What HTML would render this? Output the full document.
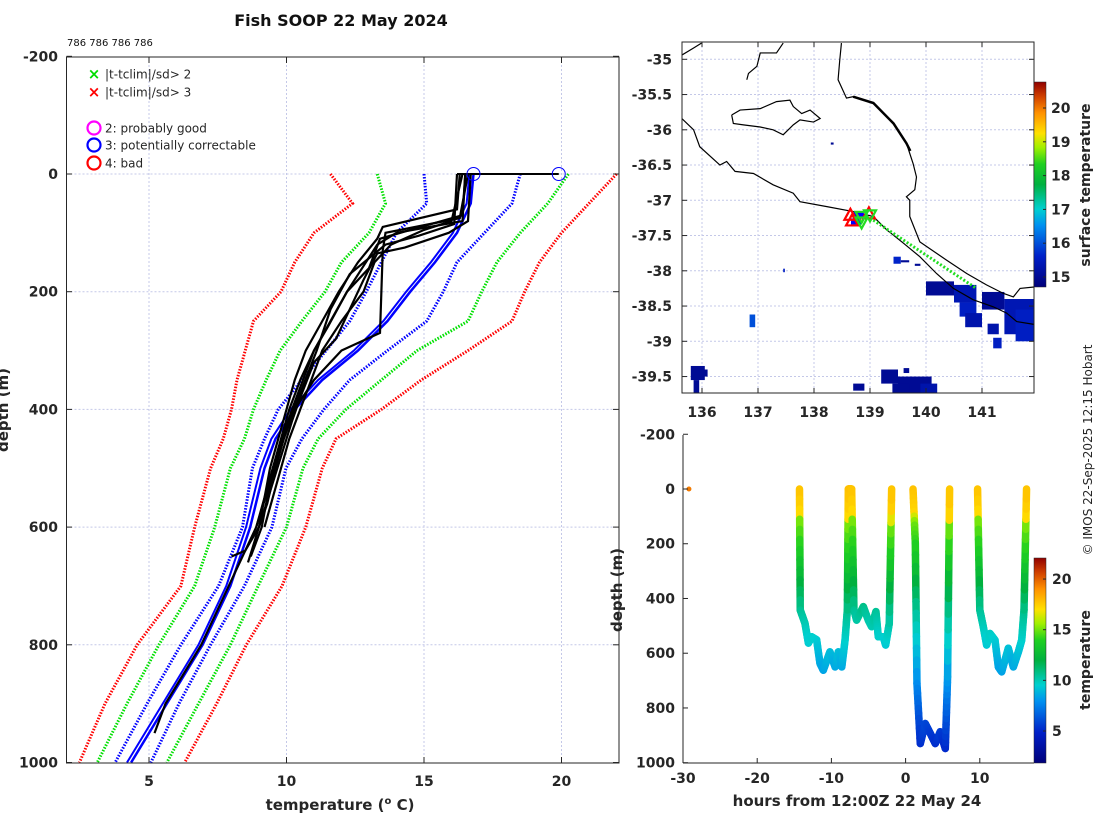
<!DOCTYPE html>
<html><head><meta charset="utf-8"><title>Fish SOOP 22 May 2024</title>
<style>
html,body{margin:0;padding:0;background:#fff;}
svg{display:block;font-family:"DejaVu Sans","Liberation Sans",sans-serif;}
.tk{font-size:14px;font-weight:bold;fill:#262626;}
.lg{font-size:12px;fill:#262626;}
</style></head>
<body>
<svg id="fig" width="1100" height="820" viewBox="0 0 1100 820" xmlns="http://www.w3.org/2000/svg">
<defs>
<clipPath id="clipL"><rect x="66.5" y="57" width="552.5" height="706"/></clipPath>
<clipPath id="clipM"><rect x="682" y="42" width="352" height="351"/></clipPath>
<clipPath id="clipB"><rect x="683" y="435" width="351" height="330"/></clipPath>
<linearGradient id="cmap" x1="0" y1="1" x2="0" y2="0">
<stop offset="0" stop-color="#00007a"/><stop offset="0.15" stop-color="#0020c8"/><stop offset="0.3" stop-color="#0090f0"/><stop offset="0.38" stop-color="#00d0d0"/><stop offset="0.5" stop-color="#00b040"/><stop offset="0.6" stop-color="#20d020"/><stop offset="0.68" stop-color="#a0f000"/><stop offset="0.75" stop-color="#ffe000"/><stop offset="0.85" stop-color="#ff9000"/><stop offset="0.93" stop-color="#d04000"/><stop offset="1" stop-color="#900000"/>
</linearGradient>
</defs>
<text x="341" y="26" text-anchor="middle" font-size="16" font-weight="bold" fill="#111">Fish SOOP 22 May 2024</text>
<text x="67" y="46" font-size="10" fill="#111">786 786 786 786</text>
<g id="gL"></g>
<g id="gM"></g>
<g id="gB"></g>
<text transform="translate(1092,450) rotate(-90)" text-anchor="middle" font-size="12" fill="#262626">© IMOS 22-Sep-2025 12:15 Hobart</text>
</svg>
<script>
// ---------- PROFILE PANEL DATA ----------
const climDepths = [0,50,100,150,200,250,300,350,400,450,500,600,700,800,900,1000];
const climRedLow   = [11.6,12.4,11.0,10.3,9.8,8.8,8.5,8.2,8.0,7.7,7.24,6.66,6.16,4.57,3.4,2.47];
const climGreenLow = [13.3,13.6,13.0,12.0,11.4,10.56,9.77,9.26,8.8,8.47,7.96,7.39,6.66,5.36,4.2,3.12];
const climBlueLow  = [15.0,15.1,14.0,13.45,12.9,12.3,11.44,10.56,9.7,9.2,8.76,8.4,7.53,6.16,4.93,3.77];
const climMean     = [16.8,16.7,16.2,15.4,14.5,13.67,12.6,11.3,10.3,9.6,9.2,8.68,7.96,6.95,5.65,4.35];
const climBlueHigh = [18.5,18.2,17.2,16.2,15.7,15.1,13.67,12.3,11.36,10.56,9.98,9.47,8.47,7.24,6.09,5.07];
const climGreenHigh= [20.25,19.5,18.5,17.65,17.1,16.6,14.75,13.45,12.16,11.15,10.6,10.0,8.97,7.96,6.8,5.65];
const climRedHigh  = [22.0,21.0,20.0,19.2,18.66,18.2,16.6,14.9,13.45,11.8,11.3,10.7,9.84,8.54,7.46,6.3];

const profDepthA = [0,60,90,110,150,200,250,300,350,400,450,500,550,600,640,650];
const profTempA  = [16.3,16.2,13.5,13.3,12.6,11.9,11.3,10.7,10.3,10.0,9.7,9.4,9.2,9.0,8.5,8.0];
const profDepthB = [0,70,95,110,160,200,260,300,350,400,450,500,550,600,650];
const profTempB  = [16.5,16.4,14.5,13.4,13.0,12.2,11.5,11.0,10.5,10.1,9.8,9.5,9.3,9.1,8.7];
const profDepthC = [0,75,100,130,200,270,300,350,400,450,500,560,600,660];
const profTempC  = [16.6,16.3,13.6,13.5,13.45,13.4,12.0,11.0,10.3,9.9,9.6,9.3,9.0,8.6];
const profDepthD = [0,80,95,120,150,200,250,300,350,400,450,500,550,600];
const profTempD  = [16.4,16.0,15.0,13.8,13.2,12.8,12.0,11.3,10.9,10.5,10.1,9.8,9.5,9.2];
const profDepthE = [0,80,100,125,135,180,220,280,320,380,420,480,540,600];
const profTempE  = [16.7,16.6,15.9,14.3,13.3,12.8,12.4,11.8,11.0,10.5,10.2,9.8,9.4,9.0];
const profDepthF = [0,80,100,120,200,300,400,500,600,700,800,900,950];
const profTempF  = [16.5,16.4,14.0,13.3,12.2,11.0,10.2,9.5,8.9,7.9,6.9,5.6,5.2];
const profDepthG = [0,85,105,120,170,230,300,360,420,480,540,600];
const profTempG  = [16.2,16.1,14.8,13.6,12.3,11.6,11.1,10.6,10.1,9.7,9.3,8.9];
const surfaceLineT = [16.2,19.9];
const flagCircleT = [16.8,19.9];
const tempTicks = [5,10,15,20];
const depthTicksL = [-200,0,200,400,600,800,1000];

// ---------- MAP DATA ----------
const coastMainLon = [135.64,135.85,135.96,136.32,136.44,136.59,136.92,137.27,137.63,137.75,138.23,138.7,139.06,139.3,139.6,139.89,140.19,140.49,140.84,141.2,141.44,141.62,141.93];
const coastMainLat = [-35.84,-36.0,-36.24,-36.5,-36.45,-36.59,-36.62,-36.78,-36.9,-37.02,-37.09,-37.16,-37.23,-37.42,-37.61,-37.8,-38.04,-38.25,-38.41,-38.51,-38.6,-38.72,-38.76];
const coastBayLon = [141.93,141.68,141.56,141.38,141.08,140.73,140.37,139.89,139.71,139.71,139.65,139.8,139.83,139.77,139.65,139.42,139.06,138.7,138.58,138.43,138.46,138.49];
const coastBayLat = [-38.23,-38.25,-38.37,-38.32,-38.2,-38.04,-37.85,-37.59,-37.23,-37.0,-36.95,-36.85,-36.67,-36.48,-36.19,-35.91,-35.62,-35.53,-35.55,-35.29,-35.01,-34.77];
const coorongLon = [138.7,139.06,139.42,139.65,139.72];
const coorongLat = [-35.53,-35.62,-35.91,-36.19,-36.3];
const islandLon = [136.53,136.68,137.04,137.33,137.57,137.63,137.78,137.93,138.11,137.99,137.75,137.63,137.45,137.27,137.04,136.74,136.56,136.53];
const islandLat = [-35.79,-35.72,-35.7,-35.6,-35.58,-35.67,-35.77,-35.72,-35.84,-35.89,-35.86,-35.93,-36.07,-36.0,-35.96,-35.93,-35.91,-35.79];
const eyreLon = [135.64,135.85,135.99];
const eyreLat = [-34.94,-34.84,-34.77];
const yorkeLon = [136.8,136.83,136.98,137.04,137.33,137.45];
const yorkeLat = [-35.29,-35.2,-35.1,-34.91,-34.91,-34.77];
const sstLon0 = [139.42,139.55,139.8,140.0,140.5,140.6,140.7,141.0,141.4,141.6,141.1,141.2,136.85,137.45,138.3,139.2,139.5,139.9,139.4,138.7,139.6,135.8,135.85,136.0];
const sstLat0 = [-37.8,-37.85,-37.9,-38.15,-38.2,-38.45,-38.6,-38.3,-38.4,-38.55,-38.75,-38.95,-38.62,-37.97,-36.18,-39.4,-39.5,-39.6,-39.6,-39.6,-39.38,-39.35,-39.55,-39.4];
const sstLon1 = [139.55,139.7,139.9,140.5,140.9,140.9,141.0,141.4,141.93,141.93,141.3,141.35,136.95,137.48,138.35,139.5,140.1,140.2,139.7,138.9,139.7,136.05,135.95,136.1];
const sstLat1 = [-37.9,-37.88,-37.93,-38.35,-38.45,-38.65,-38.8,-38.55,-38.9,-39.0,-38.9,-39.1,-38.8,-38.02,-36.21,-39.6,-39.73,-39.73,-39.73,-39.7,-39.45,-39.55,-39.73,-39.5];
const sstTemp = [15.6,14.9,14.9,14.9,15.3,15.5,15.2,14.9,15.3,15.5,15.2,15.5,16.0,15.5,14.9,14.9,14.9,15.2,14.9,14.9,14.9,14.9,14.9,14.9];
const trackLon = [139.0,140.9];
const trackLat = [-37.25,-38.25];
const redTriLon = [138.68,138.65,138.98];
const redTriLat = [-37.3,-37.22,-37.2];
const greenTriLon = [138.85,139.0,138.85];
const greenTriLat = [-37.3,-37.2,-37.22];
const blueMarkLon = [138.8,138.75];
const blueMarkLat = [-37.2,-37.3];
const lonTicks = [136,137,138,139,140,141];
const latTicks = [-35,-35.5,-36,-36.5,-37,-37.5,-38,-38.5,-39,-39.5];
const sstCbarTicks = [15,16,17,18,19,20];

// ---------- TIME-DEPTH DATA ----------
const trackHours = [-14.3,-14.2,-13.56,-13.1,-12.66,-11.99,-11.54,-11.09,-10.2,-9.5,-9.07,-8.6,-8.16,-7.85,-7.72,-7.27,-6.96,-6.6,-5.7,-5.03,-4.58,-4.0,-3.68,-3.0,-2.69,-2.2,-1.88,
  null,1.0,1.31,1.53,1.98,2.65,3.33,4.0,4.67,5.35,5.66,5.93,
  null,9.7,10.0,10.47,10.92,11.37,12.05,12.5,12.95,13.84,14.52,15.2,15.65,15.96,16.3];
const trackDepths = [0,442,491,563,540,551,637,662,595,650,595,650,552,442,0,0,442,479,430,479,503,448,540,540,570,491,0,
  null,0,198,710,930,857,893,930,887,948,686,0,
  null,0,442,503,570,528,552,650,668,582,650,595,552,442,0];
const colorDepths = [0,90,130,250,350,450,600,700,850,950];
const colorTemps  = [17.8,17.3,15.0,13.5,12.0,10.5,9.0,8.0,6.0,5.0];
const surfaceDotHour = [-29.2];
const surfaceDotTemp = [19.5];
const hourTicks = [-30,-20,-10,0,10];
const depthTicksB = [-200,0,200,400,600,800,1000];
const tCbarTicks = [5,10,15,20];

// ---------- AXIS FUNCTIONS ----------
const xL = t => 66.5 + (t - 2) * 27.5;
const yL = d => 174 + d * 0.5885;
const xM = lon => 702 + (lon - 136) * 56;
const yM = lat => 59.3 + (-35 - lat) * 70.5;
const xB = h => 683 + (h + 30) * 7.42;
const yB = d => 489 + d * 0.2737;
const yCM = t => 277 - (t - 15) * 33.8;
const yCB = t => 731 - (t - 5) * 10.13;

const NS = 'http://www.w3.org/2000/svg';
function mk(tag, attrs, parent) {
  const e = document.createElementNS(NS, tag);
  for (const k in attrs) e.setAttribute(k, attrs[k]);
  parent.appendChild(e);
  return e;
}
const cmapStops = [[0,[0,0,122]],[0.15,[0,32,200]],[0.3,[0,144,240]],[0.38,[0,208,208]],[0.5,[0,176,64]],[0.6,[32,208,32]],[0.68,[160,240,0]],[0.75,[255,224,0]],[0.85,[255,144,0]],[0.93,[208,64,0]],[1,[144,0,0]]];
function cmap(f) {
  f = Math.max(0, Math.min(1, f));
  for (let i = 1; i < cmapStops.length; i++) {
    if (f <= cmapStops[i][0]) {
      const a = cmapStops[i-1], b = cmapStops[i];
      const u = (f - a[0]) / (b[0] - a[0]);
      const c = a[1].map((v, j) => Math.round(v + (b[1][j] - v) * u));
      return 'rgb(' + c.join(',') + ')';
    }
  }
  return 'rgb(144,0,0)';
}
function interp(xs, ys, x) {
  if (x <= xs[0]) return ys[0];
  for (let i = 1; i < xs.length; i++) if (x <= xs[i]) return ys[i-1] + (ys[i] - ys[i-1]) * (x - xs[i-1]) / (xs[i] - xs[i-1]);
  return ys[ys.length - 1];
}

// ---------- PROFILE PANEL ----------
const gL = document.getElementById('gL');
for (const d of depthTicksL) {
  if (d === -200 || d === 1000) continue;
  const g = mk('line', {x1: 66.5, x2: 619, y1: yL(d), y2: yL(d), stroke: '#c4c8e8', 'stroke-width': 1, 'stroke-dasharray': '2,2'}, gL);
  
  
}
for (const t of tempTicks) {
  const g = mk('line', {x1: xL(t), x2: xL(t), y1: 57, y2: 763, stroke: '#c4c8e8', 'stroke-width': 1, 'stroke-dasharray': '2,2'}, gL);
  
  
}
const clipL = mk('g', {'clip-path': 'url(#clipL)'}, gL);
function climLine(vals, color, name) {
  const pts = vals.map((t, i) => xL(t) + ',' + yL(climDepths[i])).join(' ');
  const p = mk('polyline', {points: pts, fill: 'none', stroke: color, 'stroke-width': 3, 'stroke-dasharray': '1.5,1.5'}, clipL);
  
  
}
climLine(climRedLow, '#ff0000', 'clim-minus-3sd');
climLine(climGreenLow, '#00e000', 'clim-minus-2sd');
climLine(climBlueLow, '#0000ff', 'clim-minus-1sd');
climLine(climBlueHigh, '#0000ff', 'clim-plus-1sd');
climLine(climGreenHigh, '#00e000', 'clim-plus-2sd');
climLine(climRedHigh, '#ff0000', 'clim-plus-3sd');
const meanPts = climMean.map((t, i) => xL(t) + ',' + yL(climDepths[i])).join(' ');
const meanLine = mk('polyline', {points: meanPts, fill: 'none', stroke: '#0000ff', 'stroke-width': 2.5}, clipL);


const meanPts2 = climMean.map((t, i) => xL(t - 0.15) + ',' + yL(climDepths[i])).join(' ');
const meanLine2 = mk('polyline', {points: meanPts2, fill: 'none', stroke: '#0000ff', 'stroke-width': 2}, clipL);


const profs = [[profDepthA, profTempA], [profDepthB, profTempB], [profDepthC, profTempC], [profDepthD, profTempD], [profDepthE, profTempE], [profDepthF, profTempF], [profDepthG, profTempG]];
profs.forEach((pr, k) => {
  const pts = pr[0].map((d, i) => xL(pr[1][i]) + ',' + yL(d)).join(' ');
  const p = mk('polyline', {points: pts, fill: 'none', stroke: '#000', 'stroke-width': 2.2}, clipL);
  
  
});
const sl = mk('line', {x1: xL(surfaceLineT[0]), x2: xL(surfaceLineT[1]), y1: yL(0), y2: yL(0), stroke: '#000', 'stroke-width': 2}, clipL);


flagCircleT.forEach((t, i) => {
  const c = mk('circle', {cx: xL(t), cy: yL(0), r: 6.5, fill: 'none', stroke: '#0000ff', 'stroke-width': 1}, clipL);
  
  
});
const boxL = mk('rect', {x: 66.5, y: 57, width: 552.5, height: 706, fill: 'none', stroke: '#262626', 'stroke-width': 1}, gL);


for (const d of depthTicksL) {
  const t = mk('text', {x: 58, y: yL(d) + 5, 'text-anchor': 'end', class: 'tk'}, gL);
  t.textContent = d;
  
  
  mk('line', {x1: 66.5, x2: 72, y1: yL(d), y2: yL(d), stroke: '#262626'}, gL);
  mk('line', {x1: 613, x2: 619, y1: yL(d), y2: yL(d), stroke: '#262626'}, gL);
}
for (const tv of tempTicks) {
  const t = mk('text', {x: xL(tv), y: 786, 'text-anchor': 'middle', class: 'tk'}, gL);
  t.textContent = tv;
  
  
  mk('line', {x1: xL(tv), x2: xL(tv), y1: 763, y2: 757, stroke: '#262626'}, gL);
  mk('line', {x1: xL(tv), x2: xL(tv), y1: 57, y2: 63, stroke: '#262626'}, gL);
}
const xt = mk('text', {x: 340, y: 810, 'text-anchor': 'middle', 'font-size': 15, 'font-weight': 'bold', fill: '#262626'}, gL);


xt.innerHTML = 'temperature (<tspan dy="-6" font-size="10">o</tspan><tspan dy="6"> C)</tspan>';
const yt = mk('text', {transform: 'translate(8,410) rotate(-90)', 'text-anchor': 'middle', 'font-size': 15, 'font-weight': 'bold', fill: '#262626'}, gL);
yt.textContent = 'depth (m)';


// legend
const legItems = [['x', '#00dd00', '|t-tclim|/sd> 2', 74], ['x', '#ff0000', '|t-tclim|/sd> 3', 92], ['o', '#ff00ff', '2: probably good', 128], ['o', '#0000ff', '3: potentially correctable', 145], ['o', '#ff0000', '4: bad', 163]];
legItems.forEach((it, i) => {
  if (it[0] === 'x') {
    const t = mk('text', {x: 94, y: it[3] + 5, 'text-anchor': 'middle', 'font-size': 15, 'font-weight': 'bold', fill: it[1]}, gL);
    t.textContent = '×';
    
    
  } else {
    const c = mk('circle', {cx: 94, cy: it[3], r: 6.5, fill: 'none', stroke: it[1], 'stroke-width': 2.2}, gL);
    
    
  }
  const t = mk('text', {x: 105, y: it[3] + 4.5, class: 'lg'}, gL);
  t.textContent = it[2];
  
  
});

// ---------- MAP PANEL ----------
const gM = document.getElementById('gM');
for (const lt of latTicks) {
  mk('line', {x1: 682, x2: 1034, y1: yM(lt), y2: yM(lt), stroke: '#c4c8e8', 'stroke-dasharray': '2,2'}, gM);
}
for (const ln of lonTicks) {
  mk('line', {x1: xM(ln), x2: xM(ln), y1: 42, y2: 393, stroke: '#c4c8e8', 'stroke-dasharray': '2,2'}, gM);
}
const clipM = mk('g', {'clip-path': 'url(#clipM)'}, gM);
sstTemp.forEach((tv, i) => {
  const f = (tv - 14.7) / (20.77 - 14.7);
  const r = mk('rect', {x: xM(sstLon0[i]), y: yM(sstLat0[i]), width: xM(sstLon1[i]) - xM(sstLon0[i]), height: yM(sstLat1[i]) - yM(sstLat0[i]), fill: cmap(f * 0.9 + 0.02)}, clipM);
  
  
});
function coast(lons, lats, name, w) {
  const p = mk('polyline', {points: lons.map((l, i) => xM(l) + ',' + yM(lats[i])).join(' '), fill: 'none', stroke: '#000', 'stroke-width': w}, clipM);
  
  
}
coast(coastMainLon, coastMainLat, 'coastline-shelf', 1.2);
coast(coastBayLon, coastBayLat, 'coastline-mainland', 1.2);
coast(coorongLon, coorongLat, 'coorong', 2.5);
coast(islandLon, islandLat, 'kangaroo-island', 1.2);
coast(eyreLon, eyreLat, 'eyre-peninsula', 1.2);
coast(yorkeLon, yorkeLat, 'yorke-peninsula', 1.2);
const trk = mk('line', {x1: xM(trackLon[0]), y1: yM(trackLat[0]), x2: xM(trackLon[1]), y2: yM(trackLat[1]), stroke: '#22dd22', 'stroke-width': 3, 'stroke-dasharray': '2,2'}, clipM);


blueMarkLon.forEach((l, i) => {
  const r = mk('rect', {x: xM(l) - 5, y: yM(blueMarkLat[i]) - 3, width: 10, height: 6, fill: '#0000ff'}, clipM);
  
  
});
redTriLon.forEach((l, i) => {
  const x = xM(l), y = yM(redTriLat[i]);
  const p = mk('polygon', {points: `${x},${y-7} ${x-6},${y+4} ${x+6},${y+4}`, fill: 'none', stroke: '#ff0000', 'stroke-width': 2.2}, clipM);
  
  
});
greenTriLon.forEach((l, i) => {
  const x = xM(l), y = yM(greenTriLat[i]);
  const p = mk('polygon', {points: `${x},${y+7} ${x-6},${y-4} ${x+6},${y-4}`, fill: 'none', stroke: '#22dd22', 'stroke-width': 2.2}, clipM);
  
  
});
const boxM = mk('rect', {x: 682, y: 42, width: 352, height: 351, fill: 'none', stroke: '#262626'}, gM);


for (const lt of latTicks) {
  const t = mk('text', {x: 672, y: yM(lt) + 5, 'text-anchor': 'end', class: 'tk'}, gM);
  t.textContent = lt;
  
  
  mk('line', {x1: 682, x2: 687, y1: yM(lt), y2: yM(lt), stroke: '#262626'}, gM);
  mk('line', {x1: 1029, x2: 1034, y1: yM(lt), y2: yM(lt), stroke: '#262626'}, gM);
}
for (const ln of lonTicks) {
  const t = mk('text', {x: xM(ln), y: 417, 'text-anchor': 'middle', class: 'tk'}, gM);
  t.textContent = ln;
  
  
  mk('line', {x1: xM(ln), x2: xM(ln), y1: 393, y2: 388, stroke: '#262626'}, gM);
  mk('line', {x1: xM(ln), x2: xM(ln), y1: 42, y2: 47, stroke: '#262626'}, gM);
}
const cbM = mk('rect', {x: 1034, y: 82, width: 12, height: 205, fill: 'url(#cmap)', stroke: '#262626', 'stroke-width': 0.5}, gM);


for (const tv of sstCbarTicks) {
  const t = mk('text', {x: 1051, y: yCM(tv) + 5, class: 'tk'}, gM);
  t.textContent = tv;
  
  
  mk('line', {x1: 1043, x2: 1046, y1: yCM(tv), y2: yCM(tv), stroke: '#262626'}, gM);
}
const cbMt = mk('text', {transform: 'translate(1090,185) rotate(-90)', 'text-anchor': 'middle', 'font-size': 14, 'font-weight': 'bold', fill: '#262626'}, gM);
cbMt.textContent = 'surface temperature';



// ---------- TIME-DEPTH PANEL ----------
const gB = document.getElementById('gB');
const clipB = mk('g', {'clip-path': 'url(#clipB)'}, gB);
const tMin = 1.8, tMax = 22.1;
for (let i = 1; i < trackHours.length; i++) {
  if (trackHours[i] === null || trackHours[i-1] === null) continue;
  const n = 12;
  for (let k = 0; k < n; k++) {
    const u0 = k / n, u1 = (k + 1) / n;
    const h0 = trackHours[i-1] + (trackHours[i] - trackHours[i-1]) * u0;
    const h1 = trackHours[i-1] + (trackHours[i] - trackHours[i-1]) * u1;
    const d0 = trackDepths[i-1] + (trackDepths[i] - trackDepths[i-1]) * u0;
    const d1 = trackDepths[i-1] + (trackDepths[i] - trackDepths[i-1]) * u1;
    const tv = interp(colorDepths, colorTemps, (d0 + d1) / 2);
    const s = mk('line', {x1: xB(h0), y1: yB(d0), x2: xB(h1), y2: yB(d1), stroke: cmap((tv - tMin) / (tMax - tMin)), 'stroke-width': 7.5, 'stroke-linecap': 'round'}, clipB);
    
    
  }
}
surfaceDotHour.forEach((h, i) => {
  const c = mk('circle', {cx: xB(h), cy: yB(0), r: 2.5, fill: cmap((surfaceDotTemp[i] - tMin) / (tMax - tMin))}, clipB);
  
  
});
mk('line', {x1: 683, x2: 683, y1: 435, y2: 763, stroke: '#262626'}, gB);
mk('line', {x1: 683, x2: 1034, y1: 763, y2: 763, stroke: '#262626'}, gB);
for (const d of depthTicksB) {
  const t = mk('text', {x: 675, y: yB(d) + 5, 'text-anchor': 'end', class: 'tk'}, gB);
  t.textContent = d;
  
  
  mk('line', {x1: 683, x2: 688, y1: yB(d), y2: yB(d), stroke: '#262626'}, gB);
}
for (const h of hourTicks) {
  const t = mk('text', {x: xB(h), y: 783, 'text-anchor': 'middle', class: 'tk'}, gB);
  t.textContent = h;
  
  
  mk('line', {x1: xB(h), x2: xB(h), y1: 763, y2: 758, stroke: '#262626'}, gB);
}
const bxt = mk('text', {x: 857, y: 806, 'text-anchor': 'middle', 'font-size': 15, 'font-weight': 'bold', fill: '#262626'}, gB);
bxt.textContent = 'hours from 12:00Z 22 May 24';


const byt = mk('text', {transform: 'translate(622,590) rotate(-90)', 'text-anchor': 'middle', 'font-size': 15, 'font-weight': 'bold', fill: '#262626'}, gB);
byt.textContent = 'depth (m)';


const cbB = mk('rect', {x: 1034, y: 558, width: 12, height: 205, fill: 'url(#cmap)', stroke: '#262626', 'stroke-width': 0.5}, gB);


for (const tv of tCbarTicks) {
  const t = mk('text', {x: 1052, y: yCB(tv) + 5, class: 'tk'}, gB);
  t.textContent = tv;
  
  
  mk('line', {x1: 1043, x2: 1046, y1: yCB(tv), y2: yCB(tv), stroke: '#262626'}, gB);
}
const cbBt = mk('text', {transform: 'translate(1090,660) rotate(-90)', 'text-anchor': 'middle', 'font-size': 14, 'font-weight': 'bold', fill: '#262626'}, gB);
cbBt.textContent = 'temperature';


</script>
</body></html>
